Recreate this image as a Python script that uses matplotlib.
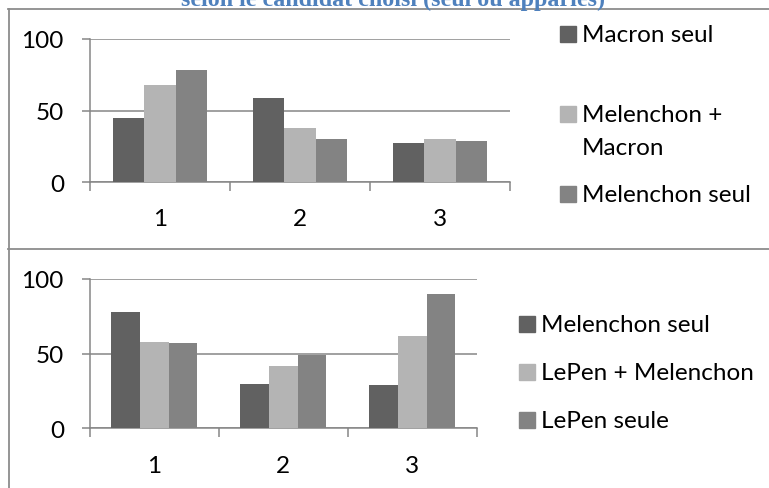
import matplotlib
matplotlib.use('Agg')
import matplotlib.pyplot as plt
from matplotlib.patches import Rectangle
from matplotlib.lines import Line2D
import numpy as np

# ---------------- data ----------------
categories = ['1', '2', '3']
top_series = ['Macron seul', 'Melenchon +\nMacron', 'Melenchon seul']
top_macron_seul = [45, 59, 27]
top_melenchon_macron = [68, 38, 30]
top_melenchon_seul = [78, 30, 29]
bottom_series = ['Melenchon seul', 'LePen + Melenchon', 'LePen seule']
bottom_melenchon_seul = [78, 30, 29]
bottom_lepen_melenchon = [58, 42, 62]
bottom_lepen_seule = [57, 49, 90]
yticks = [0, 50, 100]
title = 'selon le candidat choisi (seul ou appariés)'
colors = ['#616161', '#b4b4b4', '#838383']

W, H = 769, 489
plt.rcParams['font.family'] = ['Lato', 'DejaVu Sans']
FS = 17.5
GRID = '#868686'
BOX = '#8c8c8c'


def fx(px):
    return px / W


def fy(py):
    return 1 - py / H


fig = plt.figure(figsize=(W / 100, H / 100), dpi=100)

# frame boxes
fig.add_artist(Line2D([fx(8), 1], [fy(10), fy(10)], color=BOX, lw=1.3))
fig.add_artist(Line2D([fx(8), 1], [fy(250), fy(250)], color=BOX, lw=1.3))
fig.add_artist(Line2D([fx(8.5), fx(8.5)], [fy(10), 0], color=BOX, lw=1.3))

# title (clipped by the top edge, as in the reference)
fig.text(fx(393), fy(6), title, ha='center', va='baseline',
         family='Liberation Serif', fontweight='bold', fontsize=17.3,
         color='#4f81bd')


def draw(ax, series_values):
    x = np.arange(len(categories))
    w = 1 / 4.5
    for i, (vals, c) in enumerate(zip(series_values, colors)):
        ax.bar(x + (i - 1) * w, vals, w, color=c, zorder=3, linewidth=0)
    ax.set_xlim(-0.5, len(categories) - 0.5)
    ax.set_ylim(0, 100)
    ax.set_yticks(yticks)
    ax.set_yticklabels([str(t) for t in yticks])
    ax.set_xticks(x)
    ax.set_xticklabels(categories)
    ax.set_xticks(np.arange(len(categories) + 1) - 0.5, minor=True)
    ax.tick_params(axis='x', which='major', length=0, pad=19, labelsize=FS)
    ax.tick_params(axis='x', which='minor', length=6.5, width=1.1,
                   color=GRID, direction='out')
    ax.tick_params(axis='y', which='major', length=5.8, width=1.1,
                   color=GRID, direction='out', pad=13, labelsize=FS)
    for s in ['top', 'right']:
        ax.spines[s].set_visible(False)
    for s in ['left', 'bottom']:
        ax.spines[s].set_color(GRID)
        ax.spines[s].set_linewidth(1.1)
    ax.yaxis.grid(True, color=GRID, lw=1.1, zorder=0)
    ax.set_axisbelow(True)
    ax.patch.set_alpha(0)


ax1 = fig.add_axes([fx(90), fy(183), fx(420), (183 - 40) / H])
draw(ax1, [top_macron_seul, top_melenchon_macron, top_melenchon_seul])
ax2 = fig.add_axes([fx(90), fy(429.3), fx(386.7), (429.3 - 280) / H])
draw(ax2, [bottom_melenchon_seul, bottom_lepen_melenchon, bottom_lepen_seule])


def legend(labels, marker_x, text_x, baselines, line_gap=33.3):
    for lab, c, b in zip(labels, colors, baselines):
        fig.add_artist(Rectangle((fx(marker_x), fy(b + 1)), fx(16), 16 / H,
                                 color=c, transform=fig.transFigure))
        for j, line in enumerate(lab.split('\n')):
            fig.text(fx(text_x), fy(b + j * line_gap), line, ha='left',
                     va='baseline', fontsize=FS, color='black')


legend(top_series, 560, 582, [42, 121.7, 201.7])
legend(bottom_series, 519, 541, [331.7, 380, 428.3])

fig.savefig('out.png', dpi=100)
